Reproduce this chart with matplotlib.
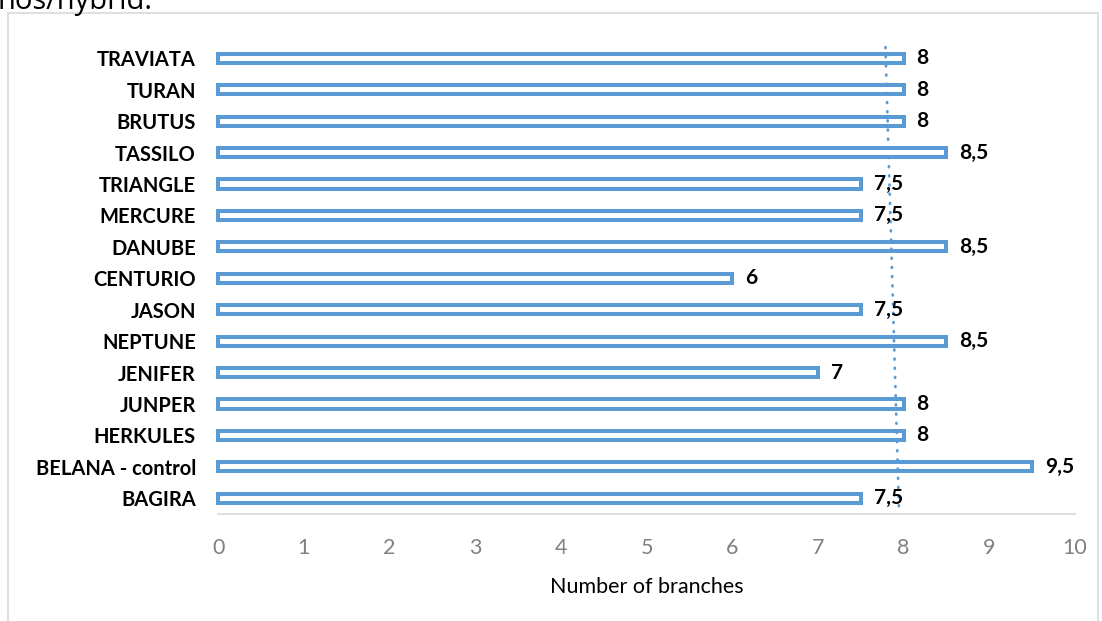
import numpy as np
import matplotlib
matplotlib.use("Agg")
import matplotlib.pyplot as plt
from matplotlib.patches import Rectangle

# bottom to top, as in the chart
varieties = ["BAGIRA", "BELANA - control", "HERKULES", "JUNPER", "JENIFER",
             "NEPTUNE", "JASON", "CENTURIO", "DANUBE", "MERCURE", "TRIANGLE",
             "TASSILO", "BRUTUS", "TURAN", "TRAVIATA"]
branches = [7.5, 9.5, 8, 8, 7, 8.5, 7.5, 6, 8.5, 7.5, 7.5, 8.5, 8, 8, 8]
xticks = [0, 1, 2, 3, 4, 5, 6, 7, 8, 9, 10]

blue = "#5B9BD5"
plt.rcParams["font.family"] = ["Lato", "DejaVu Sans"]

fig = plt.figure(figsize=(11.02, 6.21), dpi=100)
ax = fig.add_axes([0.198, 0.1723, 0.7775, 0.7591])

pos = np.arange(len(varieties))
ax.barh(pos, branches, height=0.29, color="white", edgecolor=blue,
        linewidth=2.9, clip_on=False, zorder=2)

# value labels, decimal comma
for p, v in zip(pos, branches):
    txt = ("%g" % v).replace(".", ",")
    ax.text(v + 0.15, p, txt, va="center", ha="left", fontsize=15,
            fontweight="bold", color="black", zorder=4)

# linear trend line
k, b = np.polyfit(pos, branches, 1)
yy = np.array([-0.25, 14.45])
ax.plot(k * yy + b, yy, color=blue, linewidth=2.0,
        linestyle=(0, (0.3, 3.0)), dash_capstyle="round", zorder=3)

ax.set_xlim(0, 10)
ax.set_ylim(-0.5, len(varieties) - 0.5)
ax.set_xticks(xticks)
ax.set_yticks(pos)
ax.set_yticklabels(varieties, fontsize=14.5, fontweight="bold")
ax.tick_params(axis="y", length=0, pad=16)
ax.tick_params(axis="x", length=0, pad=17, labelsize=15.5, labelcolor="#808080")
for s in ["top", "right", "left"]:
    ax.spines[s].set_visible(False)
ax.spines["bottom"].set_color("#D9D9D9")
ax.spines["bottom"].set_linewidth(1.2)
ax.set_xlabel("Number of branches", fontsize=15.5, labelpad=14)

# outer chart frame and the cut-off caption above it
fig.patches.append(Rectangle((8 / 1102, -0.05), (1098 - 8) / 1102, 1.05 - 13 / 621,
                             transform=fig.transFigure, fill=False,
                             edgecolor="#D9D9D9", linewidth=1.2))
fig.text(-0.002, 1 - 9 / 621, "nos/hybrid.", fontsize=21, va="baseline",
         ha="left", family=["Open Sans", "DejaVu Sans"])

fig.savefig("out.png", dpi=100)
